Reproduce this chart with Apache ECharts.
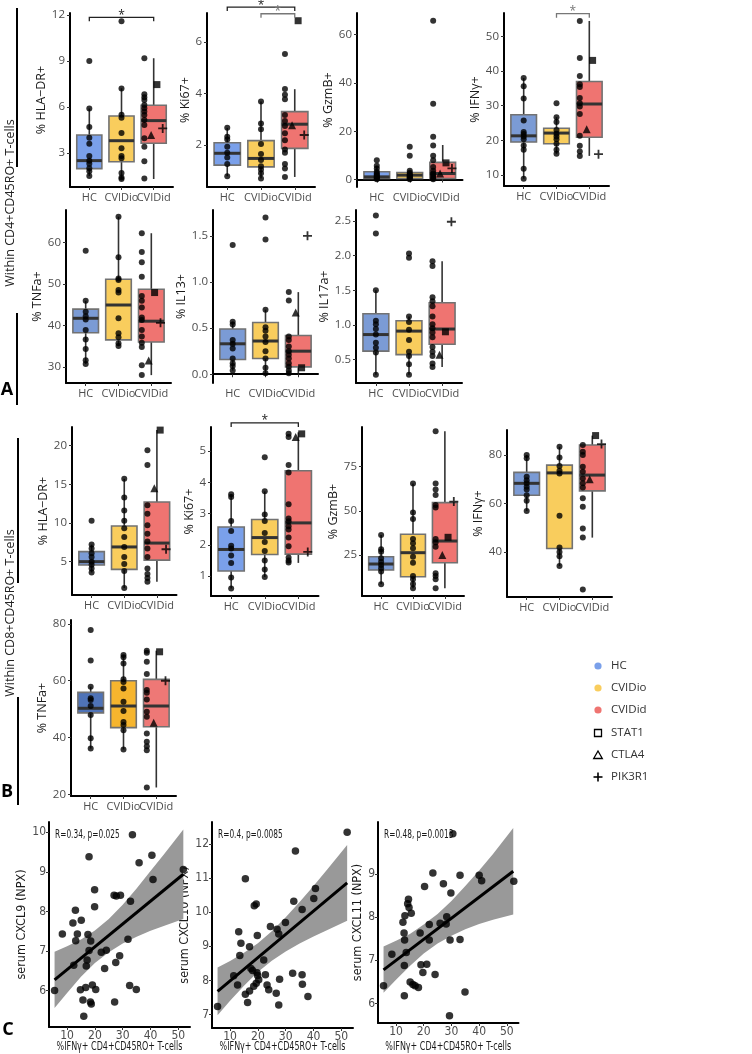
<!DOCTYPE html>
<html>
<head>
<meta charset="utf-8">
<script src="https://cdn.jsdelivr.net/npm/echarts@6/dist/echarts.min.js"></script>
<style>
html,body{margin:0;padding:0;background:#fff}
#chart{width:752px;height:1054px}
</style>
</head>
<body>
<div id="chart"></div>
<script>
// groups and mutation markers
var groups = ['HC', 'CVIDio', 'CVIDid'];
var mutations = ['STAT1', 'CTLA4', 'PIK3R1'];

// ---- A: within CD4+CD45RO+ T-cells ----
var a1_ticks = [3, 6, 9, 12];
var a1_hc = [9.0, 5.9, 4.7, 4.0, 3.6, 2.8, 2.5, 2.3, 2.0, 1.8, 1.5];
var a1_io = [11.6, 7.2, 5.5, 5.3, 4.3, 3.3, 2.8, 2.65, 1.7, 1.4, 1.3];
var a1_id = [9.18, 6.83, 6.63, 6.46, 6.13, 5.91, 5.7, 5.48, 5.15, 4.83, 3.96, 3.41, 2.46, 1.33];
var a1_box = [[1.5, 1.98, 2.5, 4.17, 5.9], [1.3, 2.43, 3.8, 5.41, 7.22], [1.3, 3.63, 5.11, 6.11, 9.18]];
var a1_mut = [7.46, 4.17, 4.6];
var a1_sig = [[1, 3, 11.85]];

var a2_ticks = [2, 4, 6];
var a2_hc = [2.67, 2.32, 2.22, 1.93, 1.70, 1.52, 1.26, 0.79];
var a2_io = [3.69, 2.84, 2.61, 2.04, 1.65, 1.42, 1.18, 1.05, 0.90, 0.70];
var a2_id = [5.54, 4.18, 3.95, 3.78, 3.17, 2.93, 2.74, 2.46, 2.19, 1.83, 1.70, 1.26, 1.09, 0.76];
var a2_box = [[0.79, 1.22, 1.68, 2.09, 2.67], [0.70, 1.15, 1.48, 2.17, 3.69], [0.76, 1.87, 2.81, 3.30, 4.17]];
var a2_mut = [6.83, 2.77, 2.39];
var a2_sig = [[1, 3, 7.36], [2, 3, 7.10]];

var a3_ticks = [0, 20, 40, 60];
var a3_hc = [8.0, 5.7, 4.6, 3.2, 2.5, 2.0, 1.5, 1.1, 0.8, 0.4, 0.1];
var a3_io = [13.6, 9.8, 3.6, 2.8, 2.2, 1.8, 1.5, 1.0, 0.8, 0.4, 0.1];
var a3_id = [65.8, 31.4, 17.7, 14.1, 9.8, 8.0, 5.2, 3.6, 2.5, 1.8, 1.1, 0.4, 0.1];
var a3_box = [[0.1, 0.4, 1.1, 3.2, 5.7], [0.1, 0.4, 1.8, 2.9, 3.6], [0.1, 0.4, 2.5, 7.1, 14.3]];
var a3_mut = [6.9, 2.5, 4.6];
var a3_sig = [];

var a4_ticks = [10, 20, 30, 40, 50];
var a4_hc = [38.0, 35.6, 32.1, 25.7, 22.4, 21.8, 21.1, 20.3, 18.5, 17.3, 11.8, 8.9];
var a4_io = [30.7, 26.7, 25.3, 23.0, 21.9, 21.1, 20.3, 19.0, 17.3, 16.1];
var a4_id = [54.5, 43.8, 38.6, 36.2, 35.4, 32.2, 30.7, 29.8, 27.6, 21.3, 18.4, 16.8, 15.5];
var a4_box = [[8.9, 19.5, 21.3, 27.4, 38.0], [16.1, 19.0, 22.1, 23.5, 26.7], [15.5, 20.9, 30.5, 37.0, 54.5]];
var a4_mut = [43.1, 23.2, 16.0];
var a4_sig = [[2, 3, 56.6]];

var a5_ticks = [30, 40, 50, 60];
var a5_hc = [58.0, 45.9, 43.3, 42.2, 41.4, 38.9, 36.6, 34.3, 31.6, 30.7];
var a5_io = [66.2, 56.4, 51.3, 50.9, 48.5, 47.9, 41.7, 38.1, 37.1, 35.7, 35.0];
var a5_id = [62.2, 57.7, 55.2, 51.7, 47.1, 45.9, 44.3, 41.9, 41.3, 38.9, 37.3, 35.8, 34.8, 30.4, 28.0];
var a5_box = [[30.7, 38.2, 41.7, 43.9, 45.9], [35.0, 36.5, 44.9, 51.1, 66.2], [28.0, 36.0, 41.0, 48.7, 62.2]];
var a5_mut = [47.9, 31.5, 40.6];

var a6_ticks = [0, 0.5, 1.0, 1.5];
var a6_hc = [1.40, 0.57, 0.54, 0.37, 0.33, 0.28, 0.17, 0.12, 0.09, 0.04];
var a6_io = [1.70, 1.46, 0.70, 0.51, 0.47, 0.41, 0.35, 0.25, 0.17, 0.07, 0.01];
var a6_id = [0.89, 0.80, 0.41, 0.37, 0.30, 0.25, 0.21, 0.17, 0.12, 0.08, 0.04, 0.01];
var a6_box = [[0.04, 0.16, 0.33, 0.49, 0.57], [0.01, 0.17, 0.36, 0.56, 0.70], [0.01, 0.08, 0.25, 0.42, 0.89]];
var a6_mut = [0.07, 0.67, 1.50];

var a7_ticks = [0.5, 1.0, 1.5, 2.0, 2.5];
var a7_hc = [2.58, 2.32, 1.50, 1.06, 1.01, 0.94, 0.86, 0.74, 0.67, 0.60, 0.28];
var a7_io = [2.03, 1.97, 1.12, 1.04, 0.93, 0.78, 0.61, 0.55, 0.43, 0.28];
var a7_id = [1.92, 1.85, 1.40, 1.34, 1.27, 1.12, 1.01, 0.95, 0.89, 0.82, 0.68, 0.61, 0.55, 0.44, 0.39];
var a7_box = [[0.28, 0.62, 0.86, 1.16, 1.50], [0.28, 0.57, 0.91, 1.06, 1.12], [0.39, 0.72, 0.94, 1.32, 1.92]];
var a7_mut = [0.90, 0.57, 2.49];

// ---- B: within CD8+CD45RO+ T-cells ----
var b1_ticks = [5, 10, 15, 20];
var b1_hc = [10.3, 7.2, 6.7, 6.1, 5.6, 5.0, 4.6, 4.1, 3.6];
var b1_io = [15.7, 13.3, 11.6, 10.3, 9.3, 8.2, 6.9, 5.6, 4.7, 3.8, 1.6];
var b1_id = [19.4, 17.5, 12.3, 11.2, 9.7, 8.6, 7.6, 6.7, 5.6, 4.1, 3.4, 2.9, 2.4];
var b1_box = [[3.6, 4.57, 5.0, 6.3, 7.2], [1.6, 4.0, 6.9, 9.6, 15.7], [2.4, 5.2, 7.4, 12.7, 22.0]];
var b1_mut = [22.0, 14.5, 6.6];

var b2_ticks = [1, 2, 3, 4, 5];
var b2_hc = [3.62, 3.53, 2.76, 2.44, 1.97, 1.88, 1.66, 1.42, 0.95, 0.60];
var b2_io = [4.80, 3.71, 2.97, 2.76, 2.38, 2.09, 1.80, 1.50, 1.21, 0.97];
var b2_id = [5.55, 5.45, 4.55, 4.31, 3.30, 2.84, 2.75, 2.59, 2.49, 2.23, 1.95, 1.59, 1.50, 1.43];
var b2_box = [[0.60, 1.16, 1.85, 2.57, 3.62], [0.97, 1.69, 2.23, 2.81, 3.71], [1.42, 1.70, 2.70, 4.37, 5.6]];
var b2_mut = [5.55, 5.45, 1.77];
var b2_sig = [[1, 3, 5.90]];

var b3_ticks = [25, 50, 75];
var b3_hc = [36.3, 28.2, 26.9, 23.1, 21.2, 19.3, 17.5, 15.6, 8.4];
var b3_io = [65.5, 49.1, 45.3, 34.0, 31.6, 28.8, 24.0, 20.6, 13.1, 11.3, 8.6, 6.2];
var b3_id = [95.0, 65.5, 62.1, 58.9, 53.3, 51.8, 34.0, 32.0, 29.7, 14.6, 13.1, 11.3, 6.2];
var b3_box = [[8.4, 16.5, 19.9, 24.0, 36.3], [6.2, 12.7, 26.3, 36.7, 65.5], [6.2, 20.6, 32.9, 54.6, 95.0]];
var b3_mut = [35.0, 25.0, 55.2];

var b4_ticks = [40, 60, 80];
var b4_hc = [80.0, 78.6, 71.0, 69.6, 68.3, 66.9, 65.8, 63.4, 61.1, 56.9];
var b4_io = [83.4, 79.0, 75.4, 73.5, 72.4, 54.9, 41.8, 40.0, 38.2, 34.2];
var b4_id = [84.1, 81.3, 80.0, 75.1, 73.1, 70.3, 68.3, 66.6, 62.1, 58.6, 49.7, 45.9, 24.5];
var b4_box = [[56.9, 63.4, 68.3, 72.8, 80.0], [34.2, 41.4, 72.6, 75.8, 83.4], [45.9, 65.2, 71.7, 84.1, 88.0]];
var b4_mut = [88.0, 70.0, 84.5];

var b5_ticks = [20, 40, 60, 80];
var b5_hc = [77.9, 67.1, 57.9, 53.8, 53.2, 51.1, 47.9, 39.7, 36.1];
var b5_io = [69.1, 68.3, 66.1, 60.5, 59.6, 57.3, 52.6, 49.3, 45.5, 44.4, 42.6, 35.8];
var b5_id = [70.6, 69.9, 66.7, 62.4, 56.7, 55.8, 53.4, 49.1, 47.3, 41.4, 38.5, 36.9, 35.5, 22.4];
var b5_box = [[36.1, 48.7, 50.3, 55.9, 57.9], [35.8, 43.5, 51.1, 60.0, 69.1], [22.4, 43.8, 51.1, 60.5, 70.6]];
var b5_mut = [70.2, 45.2, 60.0];

// ---- C: correlations with %IFNg+ CD4+CD45RO+ ----
var c_xticks = [10, 20, 30, 40, 50];
var c1_yticks = [6, 7, 8, 9, 10];
var c1_pts = [[33.5, 9.94], [40.5, 9.42], [17.9, 9.38], [35.9, 9.23], [51.8, 9.06], [40.9, 8.81], [19.9, 8.55],
  [26.9, 8.41], [27.7, 8.39], [29.2, 8.41], [32.8, 8.26], [19.9, 8.12], [13.0, 8.03], [15.1, 7.78], [12.1, 7.71],
  [8.3, 7.43], [17.5, 7.42], [13.7, 7.43], [13.1, 7.26], [18.5, 7.25], [31.9, 7.30], [22.3, 6.97], [24.1, 7.02],
  [17.9, 7.01], [28.9, 6.88], [17.2, 6.77], [27.5, 6.71], [23.5, 6.56], [12.4, 6.64], [16.9, 6.62], [19.1, 6.14],
  [20.3, 6.03], [16.7, 6.08], [14.8, 6.02], [32.5, 6.13], [34.9, 6.03], [5.5, 6.00], [15.7, 5.76], [18.4, 5.71],
  [18.7, 5.66], [27.1, 5.71], [16.0, 5.35]];
var c1_fit = [[5.5, 6.27], [51.8, 8.94]];
var c1_bandx = [5.5, 10, 15, 20, 25, 30, 35, 40, 45, 51.8];
var c1_lo = [5.56, 5.94, 6.35, 6.70, 6.97, 7.19, 7.36, 7.51, 7.64, 7.81];
var c1_hi = [6.98, 7.12, 7.29, 7.52, 7.81, 8.17, 8.58, 9.02, 9.46, 10.07];

var c2_yticks = [7, 8, 9, 10, 11, 12];
var c2_pts = [[52.1, 12.34], [33.5, 11.79], [15.5, 10.98], [18.7, 10.19], [19.4, 10.24], [40.7, 10.69], [40.1, 10.40],
  [32.9, 10.32], [35.9, 10.08], [24.5, 9.58], [26.9, 9.50], [27.5, 9.36], [29.9, 9.70], [13.1, 9.43], [13.9, 9.09],
  [19.8, 9.32], [17.0, 8.99], [13.5, 8.73], [22.1, 8.60], [17.5, 8.35], [18.1, 8.29], [19.7, 8.23], [19.9, 8.15],
  [20.3, 8.02], [19.4, 7.92], [18.5, 7.83], [17.0, 7.69], [15.5, 7.60], [16.3, 7.36], [11.3, 8.14], [12.7, 7.87],
  [22.7, 8.17], [23.3, 7.87], [23.9, 7.73], [26.6, 7.63], [27.8, 8.04], [32.5, 8.21], [35.9, 8.17], [36.0, 7.89],
  [38.0, 7.53], [27.5, 7.28], [5.5, 7.24]];
var c2_fit = [[5.5, 7.68], [52.1, 10.86]];
var c2_bandx = [5.5, 10, 15, 20, 25, 30, 35, 40, 45, 52.1];
var c2_lo = [6.98, 7.41, 7.85, 8.25, 8.58, 8.85, 9.08, 9.29, 9.48, 9.75];
var c2_hi = [8.38, 8.57, 8.81, 9.09, 9.44, 9.85, 10.30, 10.77, 11.26, 11.97];

var c3_yticks = [6, 7, 8, 9];
var c3_pts = [[30.5, 9.93], [23.3, 9.02], [33.1, 8.97], [40.0, 8.97], [40.9, 8.84], [52.5, 8.83], [27.1, 8.77],
  [29.8, 8.56], [20.3, 8.71], [14.5, 8.41], [14.2, 8.31], [14.7, 8.22], [15.5, 8.09], [13.2, 8.03], [12.5, 7.88],
  [18.7, 7.63], [22.0, 7.83], [22.0, 7.47], [25.9, 7.86], [28.3, 8.01], [28.1, 7.84], [29.5, 7.47], [33.1, 7.48],
  [12.9, 7.63], [13.1, 7.47], [13.7, 7.18], [13.0, 6.88], [8.5, 7.14], [5.5, 6.41], [15.1, 6.50], [16.1, 6.44],
  [16.9, 6.41], [18.1, 6.37], [13.0, 6.18], [19.0, 6.90], [19.7, 6.72], [24.1, 6.67], [34.9, 6.27], [29.3, 5.72],
  [21.1, 6.91]];
var c3_fit = [[5.5, 6.78], [52.3, 9.06]];
var c3_bandx = [5.5, 10, 15, 20, 25, 30, 35, 40, 45, 52.3];
var c3_lo = [6.25, 6.55, 6.87, 7.16, 7.39, 7.57, 7.72, 7.84, 7.94, 8.06];
var c3_hi = [7.32, 7.45, 7.61, 7.83, 8.07, 8.37, 8.72, 9.08, 9.46, 10.06];

// ---- styles ----
var FONT = "'Open Sans', 'Noto Sans', sans-serif";
var FONT_C = "'DejaVu Sans Condensed', 'Open Sans', sans-serif";
var fillA = ['#7aa0ea', '#f9cd5d', '#ef7471'];
var fillM = ['#7b9bd5', '#f9cd5d', '#ef7471'];
var fillB5 = ['#4f73b7', '#f6b52e', '#ee7876'];
var dodge = {dot: -0.29, mut: [0.1, -0.08, 0.28]};
var plusPath = 'path://M4,0h2v4h4v2h-4v4h-2v-4h-4v-2h4z';
var mutSymbol = ['rect', 'triangle', plusPath];
var mutSize = [7, 8, 9];

// label slots: x runs 0.4..3.6 in steps of 0.2, groups sit at 1, 2, 3
var slotLabels = [];
for (var s = 0; s <= 16; s++) slotLabels.push(s === 3 ? groups[0] : s === 8 ? groups[1] : s === 13 ? groups[2] : '');

var boxPanels = [
  {title: '% HLA−DR+', grid: {left: 70, top: 13, width: 103, height: 174}, range: [0.78, 12.13], gap: 19, ticks: a1_ticks, hc: a1_hc, io: a1_io, id: a1_id, box: a1_box, mut: a1_mut, sig: a1_sig, sigCol: ['#222'], fill: fillA},
  {title: '% Ki67+', grid: {left: 207, top: 13, width: 108, height: 174}, range: [0.37, 7.13], gap: 10, ticks: a2_ticks, hc: a2_hc, io: a2_io, id: a2_id, box: a2_box, mut: a2_mut, sig: a2_sig, sigCol: ['#222', '#777'], fill: fillA},
  {title: '% GzmB+', grid: {left: 357, top: 13, width: 105.5, height: 174}, range: [-3.1, 69.0], gap: 16, ticks: a3_ticks, hc: a3_hc, io: a3_io, id: a3_id, box: a3_box, mut: a3_mut, sig: a3_sig, fill: fillA},
  {title: '% IFNγ+', grid: {left: 504, top: 13, width: 105, height: 173}, range: [6.8, 56.8], gap: 17, ticks: a4_ticks, hc: a4_hc, io: a4_io, id: a4_id, box: a4_box, mut: a4_mut, sig: a4_sig, sigCol: ['#777'], fill: fillM},
  {title: '% TNFa+', grid: {left: 66, top: 210, width: 105, height: 173}, range: [26.1, 67.8], gap: 18, ticks: a5_ticks, hc: a5_hc, io: a5_io, id: a5_id, box: a5_box, mut: a5_mut, fill: fillM},
  {title: '% IL13+', grid: {left: 213, top: 210, width: 105, height: 173}, range: [-0.095, 1.78], gap: 16, ticks: a6_ticks, dec: 1, hc: a6_hc, io: a6_io, id: a6_id, box: a6_box, mut: a6_mut, fill: fillM},
  {title: '% IL17a+', grid: {left: 356, top: 210, width: 106, height: 173}, range: [0.16, 2.66], gap: 20, ticks: a7_ticks, dec: 1, hc: a7_hc, io: a7_io, id: a7_id, box: a7_box, mut: a7_mut, fill: fillM},
  {title: '% HLA−DR+', grid: {left: 72, top: 427, width: 104.5, height: 168}, range: [0.69, 22.4], gap: 16, ticks: b1_ticks, hc: b1_hc, io: b1_io, id: b1_id, box: b1_box, mut: b1_mut, fill: fillM},
  {title: '% Ki67+', grid: {left: 211, top: 427, width: 107.5, height: 169}, range: [0.36, 5.77], gap: 12, ticks: b2_ticks, hc: b2_hc, io: b2_io, id: b2_id, box: b2_box, mut: b2_mut, sig: b2_sig, sigCol: ['#222'], fill: fillA},
  {title: '% GzmB+', grid: {left: 362, top: 427, width: 102, height: 169}, range: [1.8, 97.4], gap: 19, ticks: b3_ticks, hc: b3_hc, io: b3_io, id: b3_id, box: b3_box, mut: b3_mut, fill: fillM},
  {title: '% IFNγ+', grid: {left: 507, top: 430, width: 105, height: 167}, range: [21.4, 90.3], gap: 17, ticks: b4_ticks, hc: b4_hc, io: b4_io, id: b4_id, box: b4_box, mut: b4_mut, fill: fillM},
  {title: '% TNFa+', grid: {left: 71, top: 620, width: 105, height: 176}, range: [19.4, 81.4], gap: 18, ticks: b5_ticks, hc: b5_hc, io: b5_io, id: b5_id, box: b5_box, mut: b5_mut, fill: fillB5}
];

var scatterPanels = [
  {title: 'serum CXCL9 (NPX)', grid: {left: 49, top: 822, width: 141, height: 205}, yr: [5.08, 10.26], gap: 9, ticks: c1_yticks, pts: c1_pts, fit: c1_fit, bx: c1_bandx, lo: c1_lo, hi: c1_hi, note: 'R=0.34, p=0.025'},
  {title: 'serum CXCL10 (NPX)', grid: {left: 212, top: 822, width: 141, height: 206}, yr: [6.61, 12.64], gap: 8, ticks: c2_yticks, pts: c2_pts, fit: c2_fit, bx: c2_bandx, lo: c2_lo, hi: c2_hi, note: 'R=0.4, p=0.0085'},
  {title: 'serum CXCL11 (NPX)', grid: {left: 378, top: 822, width: 140.5, height: 201}, yr: [5.55, 10.2], gap: 7, ticks: c3_yticks, pts: c3_pts, fit: c3_fit, bx: c3_bandx, lo: c3_lo, hi: c3_hi, note: 'R=0.48, p=0.0013'}
];

function axisBase(font, size) {
  return {
    axisLine: {lineStyle: {color: '#000', width: 2}},
    axisTick: {length: 3, lineStyle: {color: '#333', width: 1}},
    splitLine: {show: false},
    axisLabel: {color: '#4d4d4d', fontFamily: font, fontSize: size, margin: 4}
  };
}

function boxRender(fill) {
  return function (params, api) {
    var x = api.value(0);
    var lo = api.coord([x, api.value(1)]);
    var q1 = api.coord([x, api.value(2)]);
    var md = api.coord([x, api.value(3)]);
    var q3 = api.coord([x, api.value(4)]);
    var hi = api.coord([x, api.value(5)]);
    var hw = api.size([0.78, 0])[0] / 2;
    var cx = lo[0];
    return {type: 'group', children: [
      {type: 'line', shape: {x1: cx, y1: hi[1], x2: cx, y2: lo[1]}, style: {stroke: '#333', lineWidth: 1.6}},
      {type: 'rect', shape: {x: cx - hw, y: q3[1], width: hw * 2, height: q1[1] - q3[1]},
        style: {fill: fill[params.dataIndex], stroke: '#727272', lineWidth: 1.6}},
      {type: 'line', shape: {x1: cx - hw, y1: md[1], x2: cx + hw, y2: md[1]}, style: {stroke: '#333', lineWidth: 3}}
    ]};
  };
}

function sigRender(params, api) {
  var a = api.coord([api.value(0), api.value(2)]);
  var b = api.coord([api.value(1), api.value(2)]);
  var col = api.visual('color');
  return {type: 'group', children: [
    {type: 'polyline', shape: {points: [[a[0], a[1] + 4], [a[0], a[1]], [b[0], b[1]], [b[0], b[1] + 4]]},
      style: {stroke: col, lineWidth: 1.3, fill: null}},
    {type: 'text', x: (a[0] + b[0]) / 2, y: a[1] - 2,
      style: {text: '*', fill: col, fontSize: 12, fontFamily: FONT, textAlign: 'center', textVerticalAlign: 'middle'}}
  ]};
}

function bandRender(bx, lo, hi) {
  return function (params, api) {
    if (params.dataIndex !== 0) return;
    var top = bx.map(function (x, i) { return api.coord([x, hi[i]]); });
    var bot = bx.map(function (x, i) { return api.coord([x, lo[i]]); }).reverse();
    return {type: 'polygon', shape: {points: top.concat(bot)}, style: {fill: '#999999'}};
  };
}

var grids = [], xAxes = [], yAxes = [], series = [];

boxPanels.forEach(function (p, k) {
  grids.push(p.grid);
  // value axis carrying the data
  var xa = axisBase(FONT, 11);
  xa.type = 'value'; xa.gridIndex = k; xa.min = 0.4; xa.max = 3.6; xa.position = 'bottom';
  xa.axisTick.customValues = [1, 2, 3];
  xa.axisLabel.show = false;
  xAxes.push(xa);
  var xi = xAxes.length - 1;
  // category axis on the same span, only for the group names (always all shown)
  xAxes.push({
    type: 'category', gridIndex: k, position: 'bottom', boundaryGap: false, data: slotLabels,
    axisLine: {show: false}, axisTick: {show: false}, splitLine: {show: false},
    axisLabel: {interval: 0, color: '#4d4d4d', fontFamily: FONT, fontSize: 11, margin: 5}
  });
  var ya = axisBase(FONT, 11.5);
  ya.type = 'value'; ya.gridIndex = k; ya.min = p.range[0]; ya.max = p.range[1];
  ya.axisTick.customValues = p.ticks;
  ya.axisLabel.customValues = p.ticks;
  ya.axisLabel.margin = 5;
  ya.axisLabel.formatter = (function (d) { return function (v) { return d ? v.toFixed(d) : String(v); }; })(p.dec);
  ya.name = p.title; ya.nameLocation = 'middle'; ya.nameGap = p.gap;
  ya.nameTextStyle = {color: '#1a1a1a', fontFamily: FONT, fontSize: 12.5};
  yAxes.push(ya);
  var yi = yAxes.length - 1;

  series.push({
    type: 'custom', xAxisIndex: xi, yAxisIndex: yi, z: 2, silent: true,
    renderItem: boxRender(p.fill),
    encode: {x: 0, y: [1, 2, 3, 4, 5]},
    data: p.box.map(function (b, i) { return [i + 1].concat(b); })
  });
  var dots = p.hc.map(function (v) { return [1, v]; })
    .concat(p.io.map(function (v) { return [2, v]; }))
    .concat(p.id.map(function (v) { return [3 + dodge.dot, v]; }));
  series.push({
    type: 'scatter', xAxisIndex: xi, yAxisIndex: yi, z: 3, silent: true,
    symbol: 'circle', symbolSize: 6, itemStyle: {color: '#000'}, data: dots
  });
  var muts = [];
  p.mut.forEach(function (v, i) {
    if (v == null) return;
    muts.push({name: mutations[i], value: [3 + dodge.mut[i], v], symbol: mutSymbol[i], symbolSize: mutSize[i]});
  });
  series.push({
    type: 'scatter', xAxisIndex: xi, yAxisIndex: yi, z: 4, silent: true,
    itemStyle: {color: '#000'}, data: muts
  });
  if (p.sig && p.sig.length) {
    series.push({
      type: 'custom', xAxisIndex: xi, yAxisIndex: yi, z: 5, silent: true, clip: false,
      renderItem: sigRender,
      encode: {x: [0, 1], y: 2},
      data: p.sig.map(function (s, i) { return {value: s, itemStyle: {color: p.sigCol[i]}}; })
    });
  }
});

scatterPanels.forEach(function (p, j) {
  var k = boxPanels.length + j;
  grids.push(p.grid);
  var xa = axisBase(FONT_C, 12);
  xa.type = 'value'; xa.gridIndex = k; xa.min = 3.5; xa.max = 54.2;
  xa.axisTick.customValues = c_xticks;
  xa.axisLabel.customValues = c_xticks;
  xa.axisLabel.margin = 3;
  xAxes.push(xa);
  var xi = xAxes.length - 1;
  var ya = axisBase(FONT_C, 12);
  ya.type = 'value'; ya.gridIndex = k; ya.min = p.yr[0]; ya.max = p.yr[1];
  ya.axisTick.customValues = p.ticks;
  ya.axisLabel.customValues = p.ticks;
  ya.axisLabel.margin = 3;
  ya.name = p.title; ya.nameLocation = 'middle'; ya.nameGap = p.gap;
  ya.nameTextStyle = {color: '#1a1a1a', fontFamily: FONT_C, fontSize: 12.5};
  yAxes.push(ya);
  var yi = yAxes.length - 1;

  series.push({
    type: 'custom', xAxisIndex: xi, yAxisIndex: yi, z: 2, silent: true,
    renderItem: bandRender(p.bx, p.lo, p.hi),
    encode: {x: 0, y: [1, 2]},
    data: p.bx.map(function (x, i) { return [x, p.lo[i], p.hi[i]]; })
  });
  series.push({
    type: 'scatter', xAxisIndex: xi, yAxisIndex: yi, z: 3, silent: true,
    symbol: 'circle', symbolSize: 7.5, itemStyle: {color: '#000'}, data: p.pts
  });
  series.push({
    type: 'line', xAxisIndex: xi, yAxisIndex: yi, z: 4, silent: true,
    showSymbol: false, lineStyle: {color: '#000', width: 3}, data: p.fit
  });
});

function vtext(x, y, txt) {
  return {type: 'text', x: x, y: y, rotation: Math.PI / 2,
    style: {text: txt, fill: '#222', fontFamily: FONT, fontSize: 12.5, textAlign: 'center', textVerticalAlign: 'middle'}};
}
function vline(x, y1, y2) {
  return {type: 'line', shape: {x1: x, y1: y1, x2: x, y2: y2}, style: {stroke: '#000', lineWidth: 2}};
}
function panelLetter(x, y, t) {
  return {type: 'text', x: x, y: y,
    style: {text: t, fill: '#000', fontFamily: FONT, fontWeight: 'bold', fontSize: 18, textAlign: 'center', textVerticalAlign: 'middle'}};
}
function legendText(y, t) {
  return {type: 'text', x: 611, y: y,
    style: {text: t, fill: '#333', fontFamily: FONT, fontSize: 11.5, textVerticalAlign: 'middle'}};
}
// condensed text (the panel C typeface is much narrower than the installed fonts)
function narrowText(x, y, t, align, size, sx) {
  return {type: 'text', x: x, y: y, scaleX: sx, scaleY: 1,
    style: {text: t, fill: '#1a1a1a', fontFamily: FONT_C, fontSize: size, textAlign: align, textVerticalAlign: 'middle'}};
}

var graphics = [
  vline(17, 8, 167), vline(17, 313, 405), vtext(10, 203, 'Within CD4+CD45RO+ T-cells'),
  vline(18, 438, 583), vline(18, 697, 805), vtext(10, 613, 'Within CD8+CD45RO+ T-cells'),
  panelLetter(7, 390, 'A'), panelLetter(7, 792, 'B'), panelLetter(8, 1030, 'C'),
  {type: 'circle', shape: {cx: 598, cy: 666, r: 3.6}, style: {fill: fillA[0]}},
  {type: 'circle', shape: {cx: 598, cy: 688, r: 3.6}, style: {fill: fillA[1]}},
  {type: 'circle', shape: {cx: 598, cy: 710, r: 3.6}, style: {fill: fillA[2]}},
  {type: 'rect', shape: {x: 594.5, y: 729.5, width: 7, height: 7}, style: {fill: null, stroke: '#000', lineWidth: 1.3}},
  {type: 'polygon', shape: {points: [[598, 751], [602.3, 758.5], [593.7, 758.5]]}, style: {fill: null, stroke: '#000', lineWidth: 1.3}},
  {type: 'line', shape: {x1: 593.5, y1: 777, x2: 602.5, y2: 777}, style: {stroke: '#000', lineWidth: 1.6}},
  {type: 'line', shape: {x1: 598, y1: 772.5, x2: 598, y2: 781.5}, style: {stroke: '#000', lineWidth: 1.6}},
  legendText(666, groups[0]), legendText(688, groups[1]), legendText(710, groups[2]),
  legendText(733, mutations[0]), legendText(755, mutations[1]), legendText(777, mutations[2])
];
scatterPanels.forEach(function (p) {
  graphics.push(narrowText(p.grid.left + 6, 835, p.note, 'left', 12.5, 0.66));
  graphics.push(narrowText(p.grid.left + p.grid.width / 2, 1047, '%IFNγ+ CD4+CD45RO+ T-cells', 'center', 12, 0.74));
});

var chart = echarts.init(document.getElementById('chart'), null, {renderer: 'canvas'});
chart.setOption({
  animation: false,
  backgroundColor: '#fff',
  grid: grids,
  xAxis: xAxes,
  yAxis: yAxes,
  series: series,
  graphic: graphics
});
</script>
</body>
</html>
